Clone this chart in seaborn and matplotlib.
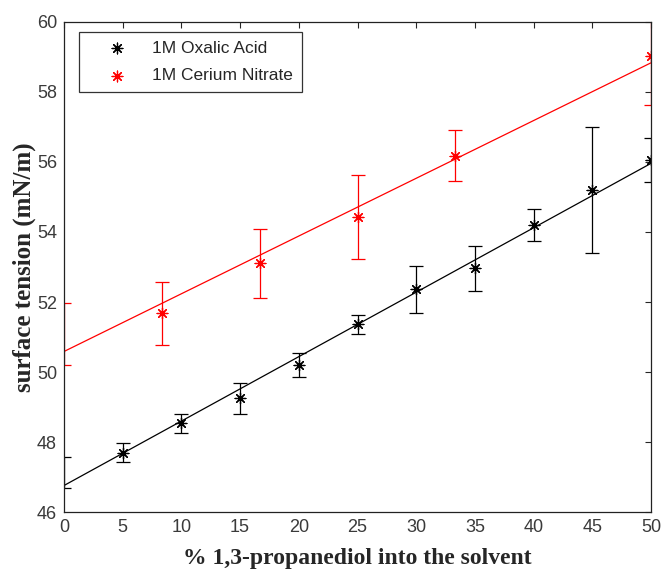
import numpy as np
import pandas as pd
import seaborn as sns
import matplotlib
matplotlib.use("Agg")
import matplotlib.pyplot as plt

# % 1,3-propanediol and surface tension (mN/m), with error bar half-widths
x_oxalic = [0, 5, 10, 15, 20, 25, 30, 35, 40, 45, 50]
y_oxalic = [47.13, 47.70, 48.53, 49.25, 50.20, 51.36, 52.36, 52.96, 54.20, 55.20, 56.06]
e_oxalic = [0.45, 0.28, 0.28, 0.45, 0.34, 0.28, 0.66, 0.64, 0.45, 1.80, 0.62]

x_cerium = [0, 8.33, 16.67, 25, 33.33, 50]
y_cerium = [51.08, 51.68, 53.10, 54.44, 56.18, 59.03]
e_cerium = [0.89, 0.90, 0.98, 1.20, 0.72, 1.40]

labels = ["1M Oxalic Acid", "1M Cerium Nitrate"]
colors = ["black", "#ff0000"]

sns.set_style("white")
plt.rcParams['font.family'] = ['Liberation Sans', 'DejaVu Sans']

fig = plt.figure(figsize=(6.62, 5.71), dpi=100)
ax = fig.add_axes([0.0967, 0.1033, 0.8867, 0.8582])

asterisk = (8, 2, 0)
series = [(x_oxalic, y_oxalic, e_oxalic), (x_cerium, y_cerium, e_cerium)]
for (xs, ys, es), lab, col in zip(series, labels, colors):
    df = pd.DataFrame({'x': xs, 'y': ys, 'e': es})
    # linear fit through the data
    sns.regplot(data=df, x='x', y='y', scatter=False, ci=None, ax=ax,
                line_kws={'color': col, 'lw': 0.9})
    ax.errorbar(df['x'], df['y'], yerr=df['e'], fmt='none', ecolor=col,
                elinewidth=0.9, capsize=4.8, capthick=0.9)
    shown = df[df['x'] > 0]
    sns.scatterplot(data=shown, x='x', y='y', ax=ax, marker=asterisk, s=60,
                    color=col, edgecolor=col, linewidth=0.9, label=lab)

ax.set_xlim(0, 50)
ax.set_ylim(46, 60)
ax.set_xticks(np.arange(0, 51, 5))
ax.set_yticks(np.arange(46, 61, 2))
ax.tick_params(direction='in', length=4.5, width=0.8, top=True, right=True,
               labelsize=13, labelcolor='#3a3a3a', pad=5)
for s in ax.spines.values():
    s.set_visible(True)
    s.set_color('#222222')
    s.set_linewidth(0.9)

ax.set_xlabel("% 1,3-propanediol into the solvent", family='Liberation Serif',
              fontweight='bold', fontsize=17, labelpad=9)
ax.set_ylabel("surface tension (mN/m)", family='Liberation Serif',
              fontweight='bold', fontsize=18, labelpad=0.5)

leg = ax.legend(loc='upper left', bbox_to_anchor=(0.0256, 0.9796), fontsize=12.5,
                frameon=True, fancybox=False, edgecolor='black', borderaxespad=0,
                handlelength=3.4, handletextpad=0.3, borderpad=0.5, labelspacing=0.7)
leg.get_frame().set_linewidth(0.9)

fig.savefig("out.png", dpi=100)
